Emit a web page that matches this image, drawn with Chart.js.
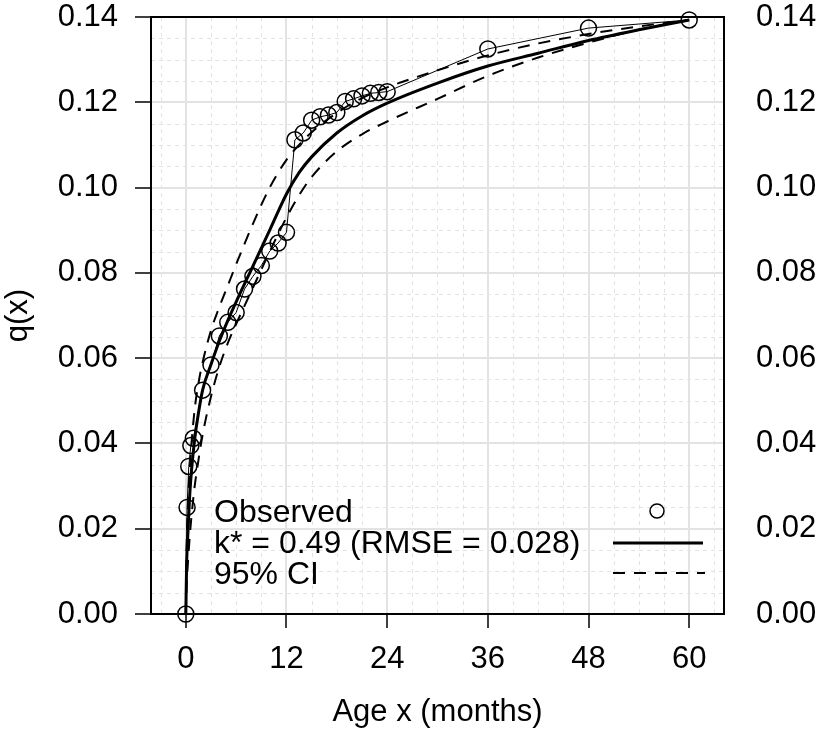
<!DOCTYPE html>
<html>
<head>
<meta charset="utf-8">
<script src="https://cdn.jsdelivr.net/npm/chart.js@4/dist/chart.umd.min.js"></script>
<style>
html,body{margin:0;padding:0;background:#fff;}
#wrap{width:817px;height:734px;}
</style>
</head>
<body>
<div id="wrap"><canvas id="c" width="817" height="734"></canvas></div>
<script>
// ---- data ----
const obsX = [0, 0.15, 0.35, 0.6, 0.9, 2, 3, 4, 5, 6, 7, 8, 9, 10, 11, 12, 13, 14, 15, 16, 17, 18, 19, 20, 21, 22, 23, 24, 36, 48, 60];
const obsY = [0, 0.025, 0.0346, 0.0395, 0.0412, 0.0525, 0.0584, 0.0652, 0.0684, 0.0707, 0.0762, 0.0792, 0.0817, 0.0851, 0.0870, 0.0895,
              0.1112, 0.1128, 0.1158, 0.1166, 0.1170, 0.1176, 0.1202, 0.1208, 0.1215, 0.1221, 0.1223, 0.1225, 0.1325, 0.1374, 0.1393];

const fitX   = [0, 0.1, 0.25, 0.5, 1, 1.5, 2, 3, 4, 5, 6, 8, 10, 12, 13.5, 15, 18, 21, 24, 30, 36, 42, 48, 54, 60];
const fitY   = [0, 0.012, 0.019, 0.029, 0.040, 0.047, 0.0525, 0.0585, 0.064, 0.0688, 0.0732, 0.0816, 0.090, 0.0985, 0.1035, 0.1072, 0.1128, 0.1168, 0.1198, 0.1245, 0.1285, 0.1315, 0.1345, 0.137, 0.1393];
const upperY = [0, 0.016, 0.025, 0.035, 0.047, 0.054, 0.059, 0.0665, 0.072, 0.077, 0.082, 0.0915, 0.100, 0.1065, 0.110, 0.113, 0.1175, 0.121, 0.1235, 0.1275, 0.131, 0.1338, 0.136, 0.1378, 0.1393];
const lowerY = [0, 0.007, 0.012, 0.019, 0.029, 0.036, 0.042, 0.051, 0.058, 0.0635, 0.068, 0.0765, 0.085, 0.093, 0.0982, 0.1025, 0.1085, 0.1125, 0.1155, 0.1208, 0.1262, 0.1305, 0.134, 0.137, 0.1393];

const xTicks = [0, 12, 24, 36, 48, 60];
const yTicks = [0, 0.02, 0.04, 0.06, 0.08, 0.10, 0.12, 0.14];
const legendLabels = ["Observed", "k* = 0.49 (RMSE = 0.028)", "95% CI"];
const xTitle = "Age x (months)";
const yTitle = "q(x)";

const FONT = "'Liberation Sans', Arial, sans-serif";
const GRID = '#e3e3e3';
const FS = 31;

const pts = (xs, ys) => xs.map((x, i) => ({x: x, y: ys[i]}));

const minorGrid = {
  id: 'minorGrid',
  beforeDatasetsDraw(chart) {
    const {ctx, chartArea: a, scales: {x, y}} = chart;
    ctx.save();
    ctx.strokeStyle = GRID;
    ctx.lineWidth = 1;
    ctx.setLineDash([4, 4]);
    for (let v = -3; v <= 63; v += 3) {
      if (v % 12 === 0) continue;
      const px = Math.round(x.getPixelForValue(v)) + 0.5;
      ctx.beginPath(); ctx.moveTo(px, a.top); ctx.lineTo(px, a.bottom); ctx.stroke();
    }
    for (let i = 1; i < 28; i++) {
      if (i % 4 === 0) continue;
      const py = Math.round(y.getPixelForValue(i * 0.005)) + 0.5;
      ctx.beginPath(); ctx.moveTo(a.left, py); ctx.lineTo(a.right, py); ctx.stroke();
    }
    ctx.setLineDash([]);
    ctx.strokeStyle = '#000';
    ctx.lineWidth = 2;
    ctx.strokeRect(a.left, a.top, a.right - a.left, a.bottom - a.top);
    ctx.restore();
  }
};

const legendPlugin = {
  id: 'rLegend',
  afterDatasetsDraw(chart) {
    const {ctx} = chart;
    const ds = chart.data.datasets;
    ctx.save();
    ctx.fillStyle = '#000';
    ctx.font = '32px ' + FONT;
    ctx.textBaseline = 'middle';
    ctx.textAlign = 'left';
    const rows = [513, 544, 575];
    legendLabels.forEach((t, i) => ctx.fillText(t, 214, rows[i]));
    ctx.strokeStyle = ds[0].borderColor;
    ctx.lineWidth = 1.5;
    ctx.beginPath(); ctx.arc(657, 511, 7, 0, Math.PI * 2); ctx.stroke();
    ctx.lineWidth = ds[1].borderWidth;
    ctx.beginPath(); ctx.moveTo(613, 543); ctx.lineTo(703, 543); ctx.stroke();
    ctx.lineWidth = ds[2].borderWidth;
    ctx.setLineDash(ds[2].borderDash);
    ctx.beginPath(); ctx.moveTo(613, 573); ctx.lineTo(705, 573); ctx.stroke();
    ctx.restore();
  }
};

const yScale = (pos) => ({
  type: 'linear',
  position: pos,
  min: 0, max: 0.14,
  afterBuildTicks: s => { s.ticks = yTicks.map(v => ({value: v})); },
  afterFit: s => { s.width = pos === 'left' ? 151 : 93; s.paddingTop = 0; s.paddingBottom = 0; },
  grid: {display: pos === 'left', color: GRID, lineWidth: 2, drawTicks: true, tickLength: 16, tickColor: '#000', tickWidth: 1.5},
  border: {display: false},
  ticks: {
    color: '#000', font: {family: FONT, size: FS}, padding: pos === 'left' ? 17 : 16,
    callback: v => Number(v).toFixed(2)
  },
  title: pos === 'left' ? {display: true, text: yTitle, color: '#000', font: {family: FONT, size: FS}, padding: {top: 0, bottom: 0}} : {display: false}
});

new Chart(document.getElementById('c'), {
  type: 'scatter',
  data: {
    datasets: [
      {
        label: legendLabels[0],
        data: pts(obsX, obsY),
        showLine: true,
        borderColor: '#000',
        backgroundColor: 'rgba(0,0,0,0)',
        borderWidth: 1,
        pointBorderWidth: 1.5,
        pointRadius: 8,
        pointStyle: 'circle',
        tension: 0,
        clip: false,
        order: 0
      },
      {
        label: legendLabels[1],
        data: pts(fitX, fitY),
        showLine: true,
        borderColor: '#000',
        borderWidth: 3,
        pointRadius: 0,
        cubicInterpolationMode: 'monotone',
        order: 1
      },
      {
        label: legendLabels[2],
        data: pts(fitX, upperY),
        showLine: true,
        borderColor: '#000',
        borderWidth: 2,
        borderDash: [12, 9],
        pointRadius: 0,
        cubicInterpolationMode: 'monotone',
        order: 2
      },
      {
        label: legendLabels[2] + ' lower',
        data: pts(fitX, lowerY),
        showLine: true,
        borderColor: '#000',
        borderWidth: 2,
        borderDash: [12, 9],
        pointRadius: 0,
        cubicInterpolationMode: 'monotone',
        order: 3
      }
    ]
  },
  options: {
    responsive: false,
    animation: false,
    devicePixelRatio: 1,
    layout: {padding: {top: 17, left: 0, right: 0, bottom: 0}},
    plugins: {legend: {display: false}, tooltip: {enabled: false}},
    scales: {
      x: {
        type: 'linear',
        position: 'bottom',
        min: -4.15, max: 64.15,
        afterBuildTicks: s => { s.ticks = xTicks.map(v => ({value: v})); },
        afterFit: s => { s.height = 120; s.paddingLeft = 0; s.paddingRight = 0; },
        grid: {color: GRID, lineWidth: 2, drawTicks: true, tickLength: 14, tickColor: '#000', tickWidth: 1.5},
        border: {display: false},
        ticks: {color: '#000', font: {family: FONT, size: FS}, padding: 13, maxRotation: 0},
        title: {display: true, text: xTitle, color: '#000', font: {family: FONT, size: FS}, padding: {top: 0, bottom: 3}}
      },
      y: yScale('left'),
      y2: yScale('right')
    }
  },
  plugins: [minorGrid, legendPlugin]
});
</script>
</body>
</html>
